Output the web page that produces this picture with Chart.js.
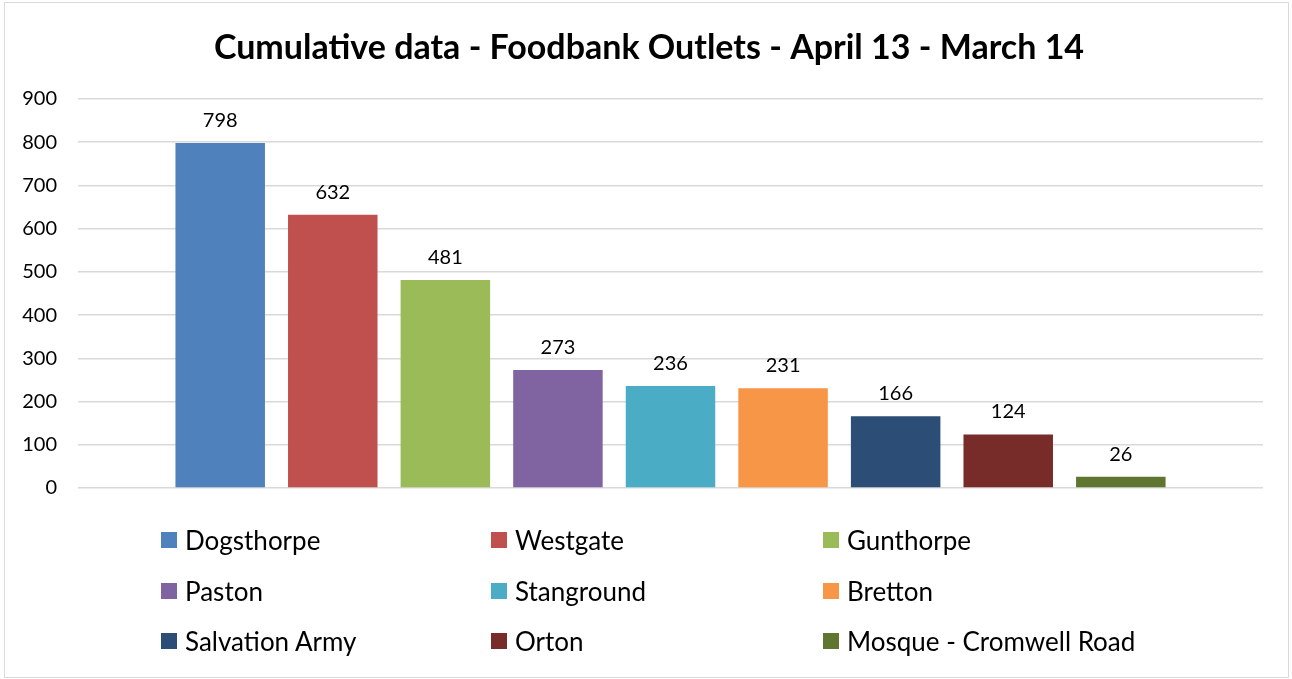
<!DOCTYPE html>
<html>
<head>
<meta charset="utf-8">
<script src="https://cdn.jsdelivr.net/npm/chart.js@4.4.1/dist/chart.umd.min.js"></script>
<style>
  body { margin: 0; background: #fff; font-family: Lato, "Open Sans", sans-serif; }
  #wrap { position: relative; width: 1292px; height: 679px; }
  #frame { position: absolute; left: 4px; top: 2px; width: 1283px; height: 674px; border: 1px solid #d9d9d9; pointer-events: none; }
  #legend { position: absolute; left: 161px; top: 526px; display: grid; grid-template-columns: 330px 332px 420px; grid-auto-rows: 50.5px; }
  .item { display: flex; align-items: center; height: 28px; font-size: 26px; color: #000; white-space: nowrap; }
  .box { width: 16px; height: 16px; margin-right: 8px; flex: none; }
</style>
</head>
<body>
<div id="wrap">
  <canvas id="myChart" width="1292" height="679"></canvas>
  <div id="legend"></div>
  <div id="frame"></div>
</div>
<script>
// DATOS //
const titulo = "Cumulative data - Foodbank Outlets - April 13 - March 14";
const outlets = ["Dogsthorpe", "Westgate", "Gunthorpe", "Paston", "Stanground", "Bretton", "Salvation Army", "Orton", "Mosque - Cromwell Road"];
const totals = [798, 632, 481, 273, 236, 231, 166, 124, 26];
const colores = ["#4F81BD", "#C0504D", "#9BBB59", "#8064A2", "#4BACC6", "#F79646", "#2C4D75", "#772C2A", "#5F7530"];
const yTicks = [0, 100, 200, 300, 400, 500, 600, 700, 800, 900];

// etiquetas encima de cada barra y titulo centrado en todo el lienzo //
const etiquetas = {
  id: "etiquetas",
  afterDatasetsDraw(chart) {
    const ctx = chart.ctx;
    ctx.save();
    ctx.font = "20px Lato";
    ctx.fillStyle = "#000";
    ctx.textAlign = "center";
    ctx.textBaseline = "alphabetic";
    chart.data.datasets.forEach((ds, i) => {
      const bar = chart.getDatasetMeta(i).data[0];
      ctx.fillText(ds.data[0], bar.x, bar.y - 16);
    });
    ctx.font = "bold 34px Lato";
    ctx.fillText(titulo, 649, 59);
    ctx.restore();
  },
};

document.addEventListener("DOMContentLoaded", function () {
  const ctx = document.getElementById("myChart").getContext("2d");
  const chart = new Chart(ctx, {
    type: "bar",
    data: {
      labels: [""],
      datasets: outlets.map((nombre, i) => ({
        label: nombre,
        data: [totals[i]],
        backgroundColor: colores[i],
        categoryPercentage: 0.855,
        barPercentage: 0.795,
      })),
    },
    options: {
      responsive: false,
      animation: false,
      layout: { padding: { left: 0, top: 99, right: 29, bottom: 183 } },
      plugins: {
        legend: { display: false },
        tooltip: { enabled: false },
        title: { display: false },
      },
      scales: {
        x: {
          ticks: { display: false },
          grid: { display: false },
          border: { display: false },
        },
        y: {
          min: 0,
          max: 900,
          afterFit(scale) {
            scale.width = 78;
          },
          afterBuildTicks(scale) {
            scale.ticks = yTicks.map((v) => ({ value: v }));
          },
          ticks: { color: "#000", font: { family: "Lato", size: 20 }, padding: 21 },
          grid: { color: "#d9d9d9", lineWidth: 1.5, drawTicks: false },
          border: { display: false },
        },
      },
    },
    plugins: [etiquetas],
  });

  // leyenda en 3 columnas //
  const leyenda = document.getElementById("legend");
  chart.data.datasets.forEach((ds) => {
    const item = document.createElement("div");
    item.className = "item";
    item.innerHTML = '<span class="box" style="background:' + ds.backgroundColor + '"></span>' + ds.label;
    leyenda.appendChild(item);
  });
});
</script>
</body>
</html>
